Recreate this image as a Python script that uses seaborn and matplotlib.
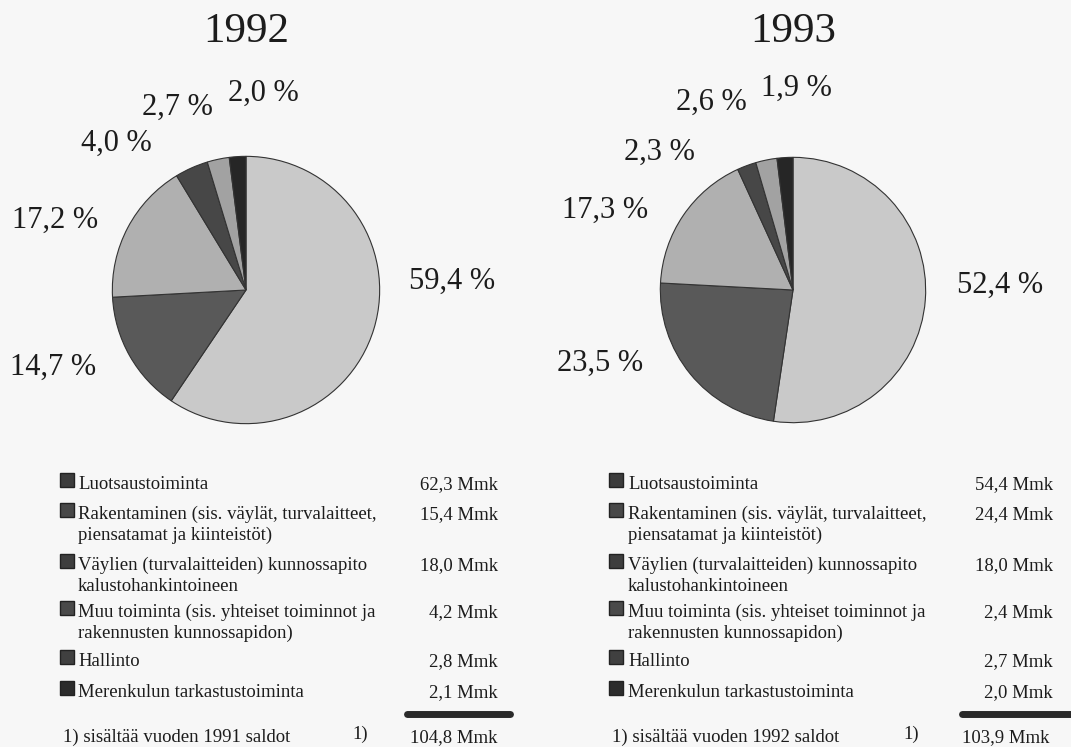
import matplotlib
matplotlib.use('Agg')
import matplotlib.pyplot as plt
import seaborn as sns

sns.set_theme(style='white')
plt.rcParams['font.family'] = ['Liberation Serif', 'DejaVu Serif']

# data
years = ['1992', '1993']
categories = [
    'Luotsaustoiminta',
    'Rakentaminen (sis. väylät, turvalaitteet,\npiensatamat ja kiinteistöt)',
    'Väylien (turvalaitteiden) kunnossapito\nkalustohankintoineen',
    'Muu toiminta (sis. yhteiset toiminnot ja\nrakennusten kunnossapidon)',
    'Hallinto',
    'Merenkulun tarkastustoiminta',
]
mmk_1992 = [62.3, 15.4, 18.0, 4.2, 2.8, 2.1]
mmk_1993 = [54.4, 24.4, 18.0, 2.4, 2.7, 2.0]
pct_1992 = ['59,4 %', '14,7 %', '17,2 %', '4,0 %', '2,7 %', '2,0 %']
pct_1993 = ['52,4 %', '23,5 %', '17,3 %', '2,3 %', '2,6 %', '1,9 %']
total_1992 = '104,8 Mmk'
total_1993 = '103,9 Mmk'
footnotes = ['1) sisältää vuoden 1991 saldot', '1) sisältää vuoden 1992 saldot']

slice_colors = ['#c9c9c9', '#595959', '#b0b0b0', '#474747', '#a2a2a2', '#262626']
marker_colors = ['#3c3c3c', '#484848', '#3e3e3e', '#4a4a4a', '#404040', '#2c2c2c']
bg = '#f7f7f7'
ink = '#1c1c1c'

W, H = 1071, 747
fig = plt.figure(figsize=(W / 100, H / 100), dpi=100, facecolor=bg)


def px(x, y):
    return x / W, 1 - y / H


def pie_axes(cx, cy, r):
    ax = fig.add_axes([(cx - r) / W, 1 - (cy + r) / H, 2 * r / W, 2 * r / H])
    ax.set_facecolor(bg)
    ax.axis('off')
    return ax


# pies
pie_specs = [
    (246, 290, 135, mmk_1992),
    (793, 290, 134, mmk_1993),
]
for cx, cy, r, vals in pie_specs:
    ax = pie_axes(cx, cy, r)
    ax.pie(vals, colors=slice_colors, startangle=90, counterclock=False,
           wedgeprops=dict(edgecolor='#333333', linewidth=0.8))
    ax.set_xlim(-1.01, 1.01)
    ax.set_ylim(-1.01, 1.01)

# titles
fig.text(*px(246, 32), years[0], fontsize=31, ha='center', va='center', color=ink)
fig.text(*px(793, 32), years[1], fontsize=31, ha='center', va='center', color=ink)

# percent labels
label_pos_1992 = [(452, 281), (53, 367), (55, 220), (116, 143), (177, 107), (263, 93)]
label_pos_1993 = [(1000, 285), (600, 363), (605, 210), (659, 152), (711, 102), (796, 88)]
for labels, positions in [(pct_1992, label_pos_1992), (pct_1993, label_pos_1993)]:
    for lab, (x, y) in zip(labels, positions):
        fig.text(*px(x, y), lab, fontsize=22, ha='center', va='center', color=ink)

# legend tables
fs = 13.5
row_y = [483, 513, 564, 611, 660, 691]
line_gap = 21
tables = [
    dict(mx=67, tx=78, vx=498, vals=mmk_1992, bar=(407, 510), tot=total_1992,
         fx=63, fn=footnotes[0], onex=360, totx=498),
    dict(mx=616, tx=628, vx=1053, vals=mmk_1993, bar=(962, 1071), tot=total_1993,
         fx=612, fn=footnotes[1], onex=911, totx=1050),
]
for t in tables:
    for i, (cat, v) in enumerate(zip(categories, t['vals'])):
        y = row_y[i]
        for k, line in enumerate(cat.split('\n')):
            fig.text(*px(t['tx'], y + 6 + k * line_gap), line, fontsize=fs,
                     ha='left', va='baseline', color=ink)
        fig.text(*px(t['vx'], y + 6), f'{v:.1f}'.replace('.', ',') + ' Mmk',
                 fontsize=fs, ha='right', va='baseline', color=ink)
        sx, sy = px(t['mx'], y - 3)
        fig.add_artist(plt.Line2D([sx], [sy], marker='s', markersize=10,
                                  markerfacecolor=marker_colors[i],
                                  markeredgecolor='#222222', linestyle='none',
                                  transform=fig.transFigure))
    x0, y0 = px(t['bar'][0], 714)
    x1, _ = px(t['bar'][1], 714)
    fig.add_artist(plt.Line2D([x0, x1], [y0, y0], color='#2a2a2a', linewidth=5,
                              solid_capstyle='round', transform=fig.transFigure))
    fig.text(*px(t['fx'], 742), t['fn'], fontsize=fs, ha='left', va='baseline', color=ink)
    fig.text(*px(t['onex'], 739), '1)', fontsize=fs, ha='center', va='baseline', color=ink)
    fig.text(*px(t['totx'], 742), t['tot'], fontsize=fs, ha='right', va='baseline', color=ink)

fig.savefig('out.png', dpi=100, facecolor=bg)
